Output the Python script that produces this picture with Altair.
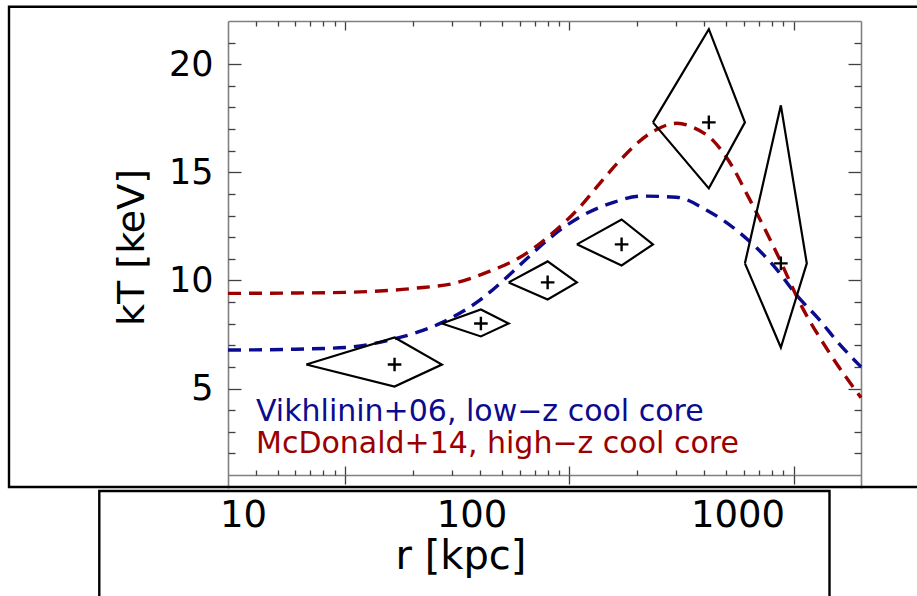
import altair as alt
import pandas as pd

# ---------------- data ----------------
series_names = ["Vikhlinin+06, low\u2212z cool core", "McDonald+14, high\u2212z cool core"]
series_colors = ["#0b0b8f", "#9b0000"]

vik_r = [3, 6, 10, 16.6, 27, 40, 52, 66, 85, 110, 156, 210, 300, 410, 576, 843, 1036, 1300, 1559, 2000]
vik_T = [6.78, 6.82, 6.9, 7.3, 8.05, 9.1, 10.1, 11.1, 12.1, 12.9, 13.6, 13.9, 13.85, 13.25, 12.2, 10.5, 9.3, 8.2, 7.2, 6.0]

mcd_r = [3, 6, 10, 20, 31.5, 42.8, 60, 84.4, 111.5, 137, 163, 229, 302, 356, 437, 536, 619, 687, 843, 1070, 1453, 2000]
mcd_T = [9.4, 9.42, 9.45, 9.63, 9.9, 10.37, 11.06, 12.2, 13.4, 14.5, 15.4, 16.8, 17.27, 17.08, 16.48, 15.23, 14.0, 13.1, 11.25, 8.94, 6.62, 4.58]

bin_edges = [6.7, 27.0, 53.6, 108.0, 236.0, 607.0, 1146.0]
bin_r = [16.6, 40.3, 80.0, 171.0, 419.0, 878.0]
bin_T = [6.11, 8.01, 9.91, 11.67, 17.31, 10.79]
bin_T_hi = [7.36, 8.66, 10.88, 12.82, 21.62, 18.1]
bin_T_lo = [5.09, 7.41, 9.12, 10.69, 14.26, 6.9]

x_major = [10, 100, 1000]
x_minor = [4, 5, 6, 7, 8, 9, 20, 30, 40, 50, 60, 70, 80, 90,
           200, 300, 400, 500, 600, 700, 800, 900]
y_major = [5, 10, 15, 20]
y_minor = [2, 3, 4, 6, 7, 8, 9, 11, 12, 13, 14, 16, 17, 18, 19, 21]

bottom_labels = ["10", "100", "1000"]
x_title = "r [kpc]"
y_title = "kT [keV]"

# ---------------- tables ----------------
curves = pd.concat([
    pd.DataFrame({"series": series_names[0], "r": vik_r, "T": vik_T, "i": range(len(vik_r))}),
    pd.DataFrame({"series": series_names[1], "r": mcd_r, "T": mcd_T, "i": range(len(mcd_r))}),
], ignore_index=True)

rows = []
for b in range(len(bin_r)):
    pts = [(bin_edges[b], bin_T[b]), (bin_r[b], bin_T_hi[b]), (bin_edges[b + 1], bin_T[b]),
           (bin_r[b], bin_T_lo[b]), (bin_edges[b], bin_T[b])]
    for k, (rr, tt) in enumerate(pts):
        rows.append({"bin": b, "k": k, "r": rr, "T": tt})
diamonds = pd.DataFrame(rows)
centers = pd.DataFrame({"r": bin_r, "T": bin_T})

# ---------------- scales / axes ----------------
W, H = 633, 467
xs = alt.Scale(type="log", domain=[3, 2000], nice=False)
ys = alt.Scale(domain=[0.4, 22], nice=False, zero=False)
FRAME = "#808080"
TICK = "#404040"
FONT = "DejaVu Sans"


def xaxis(values, orient, offset, size, domain=False):
    return alt.Axis(values=values, orient=orient, offset=offset, tickSize=size, labels=False,
                    title="", grid=False, domain=domain, domainColor=FRAME, domainWidth=1.6,
                    tickColor=TICK, tickWidth=1.3)


def yaxis(values, orient, offset, size, domain=False):
    return alt.Axis(values=values, orient=orient, offset=offset, tickSize=size, labels=False,
                    title="", grid=False, domain=domain, domainColor=FRAME, domainWidth=1.6,
                    tickColor=TICK, tickWidth=1.3)


y_label_axis = alt.Axis(values=y_major, orient="left", ticks=False, tickSize=0, labelPadding=15,
                        labelFont=FONT, labelFontSize=35, labelColor="black", grid=False,
                        domain=True, domainColor=FRAME, domainWidth=1.6,
                        title=y_title, titleFont=FONT, titleFontSize=38, titleFontWeight="normal",
                        titleColor="black", titleAngle=270, titleX=-85, titleY=226,
                        titleAlign="center", titleBaseline="alphabetic")

color = alt.Color("series:N", scale=alt.Scale(domain=series_names, range=series_colors), legend=None)

lines = alt.Chart(curves).mark_line(strokeDash=[13, 8], strokeWidth=3.4, interpolate="monotone").encode(
    x=alt.X("r:Q", scale=xs, axis=xaxis(x_major, "bottom", -H, 9, domain=True)),
    y=alt.Y("T:Q", scale=ys, axis=y_label_axis),
    color=color, detail="series:N", order="i:Q")

polys = alt.Chart(diamonds).mark_line(color="black", strokeWidth=2.2).encode(
    x=alt.X("r:Q", scale=xs, axis=xaxis(x_minor, "bottom", -H, 5)),
    y=alt.Y("T:Q", scale=ys, axis=yaxis(y_major, "right", -W, 13)),
    detail="bin:N", order="k:Q")

plus = alt.Chart(centers).mark_point(shape="M-1,0L1,0M0,-1L0,1", size=185, filled=False,
                                     color="black", strokeWidth=2.4, opacity=1).encode(
    x=alt.X("r:Q", scale=xs, axis=xaxis(x_major, "top", -454, 9, domain=True)),
    y=alt.Y("T:Q", scale=ys, axis=yaxis(y_minor, "right", -W, 7)))

dummy1 = alt.Chart(centers).mark_point(opacity=0).encode(
    x=alt.X("r:Q", scale=xs, axis=xaxis(x_minor, "top", -454, 5)),
    y=alt.Y("T:Q", scale=ys, axis=yaxis(y_major, "left", -W, 13, domain=True)))

dummy2 = alt.Chart(centers).mark_point(opacity=0).encode(
    x=alt.X("r:Q", scale=xs, axis=xaxis(x_major, "bottom", -13, 9)),
    y=alt.Y("T:Q", scale=ys, axis=yaxis(y_minor, "left", -W, 7)))

one = pd.DataFrame({"a": [0]})

leg1 = alt.Chart(pd.DataFrame({"t": [series_names[0]]})).mark_text(
    align="left", baseline="alphabetic", font=FONT, fontSize=30, color=series_colors[0]).encode(
    x=alt.value(28), y=alt.value(400), text="t:N")
leg2 = alt.Chart(pd.DataFrame({"t": [series_names[1]]})).mark_text(
    align="left", baseline="alphabetic", font=FONT, fontSize=30, color=series_colors[1]).encode(
    x=alt.value(28), y=alt.value(432), text="t:N")

frame1 = alt.Chart(one).mark_rect(fillOpacity=0, stroke="black", strokeWidth=2.4).encode(
    x=alt.value(-219), x2=alt.value(700), y=alt.value(-14.3), y2=alt.value(466))
frame2 = alt.Chart(one).mark_rect(fillOpacity=0, stroke="black", strokeWidth=2.4).encode(
    x=alt.value(-128.7), x2=alt.value(601.5), y=alt.value(470), y2=alt.value(620))

lab_layers = []
for txt, cx in zip(bottom_labels, [15.5, 244, 510]):
    lab_layers.append(alt.Chart(pd.DataFrame({"t": [txt]})).mark_text(
        align="center", baseline="alphabetic", font=FONT, fontSize=37, color="black").encode(
        x=alt.value(cx), y=alt.value(506), text="t:N"))
xt = alt.Chart(pd.DataFrame({"t": [x_title]})).mark_text(
    align="center", baseline="alphabetic", font=FONT, fontSize=40, color="black").encode(
    x=alt.value(233), y=alt.value(548), text="t:N")

chart = alt.layer(lines, polys, plus, dummy1, dummy2, leg1, leg2, frame1, frame2, *lab_layers, xt).resolve_axis(
    x="independent", y="independent").properties(
    width=W, height=H,
    autosize=alt.AutoSizeParams(type="none"),
    padding={"left": 228, "top": 21, "right": 56, "bottom": 108},
    background="white",
).configure_view(stroke=None)

chart.save("out.html", embed_options={"renderer": "svg", "actions": False})
